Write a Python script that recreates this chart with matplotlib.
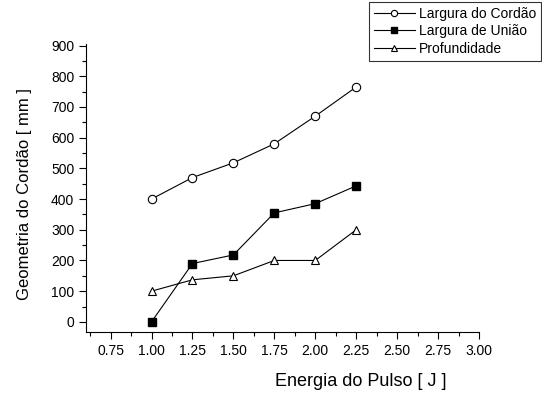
import matplotlib.pyplot as plt
from matplotlib.ticker import MultipleLocator

plt.rcParams['font.family'] = ['Liberation Sans', 'DejaVu Sans']

# Energia do pulso [J]
energia = [1.00, 1.25, 1.50, 1.75, 2.00, 2.25]
largura_cordao = [400, 470, 518, 580, 670, 765]
largura_uniao = [0, 190, 218, 355, 385, 443]
profundidade = [100, 137, 150, 200, 200, 300]

x_ticks = [0.75, 1.00, 1.25, 1.50, 1.75, 2.00, 2.25, 2.50, 2.75, 3.00]
y_ticks = [0, 100, 200, 300, 400, 500, 600, 700, 800, 900]

fig = plt.figure(figsize=(5.42, 4.0), dpi=100)
ax = fig.add_axes([0.1587, 0.17, 0.7251, 0.72])

ax.plot(energia, largura_cordao, color="black", lw=0.8, marker="o", ms=6,
        mfc="white", mec="black", mew=0.8, label="Largura do Cordão")
ax.plot(energia, largura_uniao, color="black", lw=0.8, marker="s", ms=5.2,
        mfc="black", mec="black", label="Largura de União")
ax.plot(energia, profundidade, color="black", lw=0.8, marker="^", ms=6,
        mfc="white", mec="black", mew=0.8, label="Profundidade")

ax.set_xlim(0.6, 3.0)
ax.set_ylim(-33, 905)
ax.set_xticks(x_ticks)
ax.set_xticklabels(["%.2f" % v for v in x_ticks])
ax.xaxis.set_minor_locator(MultipleLocator(0.125))
ax.set_yticks(y_ticks)
ax.yaxis.set_minor_locator(MultipleLocator(50))

for s in ["top", "right"]:
    ax.spines[s].set_visible(False)
ax.tick_params(direction="out", which="major", length=5, width=0.8, labelsize=10)
ax.tick_params(direction="out", which="minor", length=3, width=0.8)

ax.set_xlabel("Energia do Pulso [ J ]", fontsize=13)
ax.xaxis.set_label_coords(0.70, -0.142)
ax.set_ylabel("Geometria do Cordão [ mm ]", fontsize=12)
ax.yaxis.set_label_coords(-0.138, 0.48)

leg = fig.legend(loc="upper right", bbox_to_anchor=(0.998, 0.995), fontsize=10,
                 frameon=True, fancybox=False, edgecolor="black",
                 handlelength=2.9, handletextpad=0.3, borderpad=0.35,
                 labelspacing=0.25, borderaxespad=0.0, markerscale=0.75)
leg.get_frame().set_linewidth(0.8)

plt.savefig("out.png", dpi=100)
